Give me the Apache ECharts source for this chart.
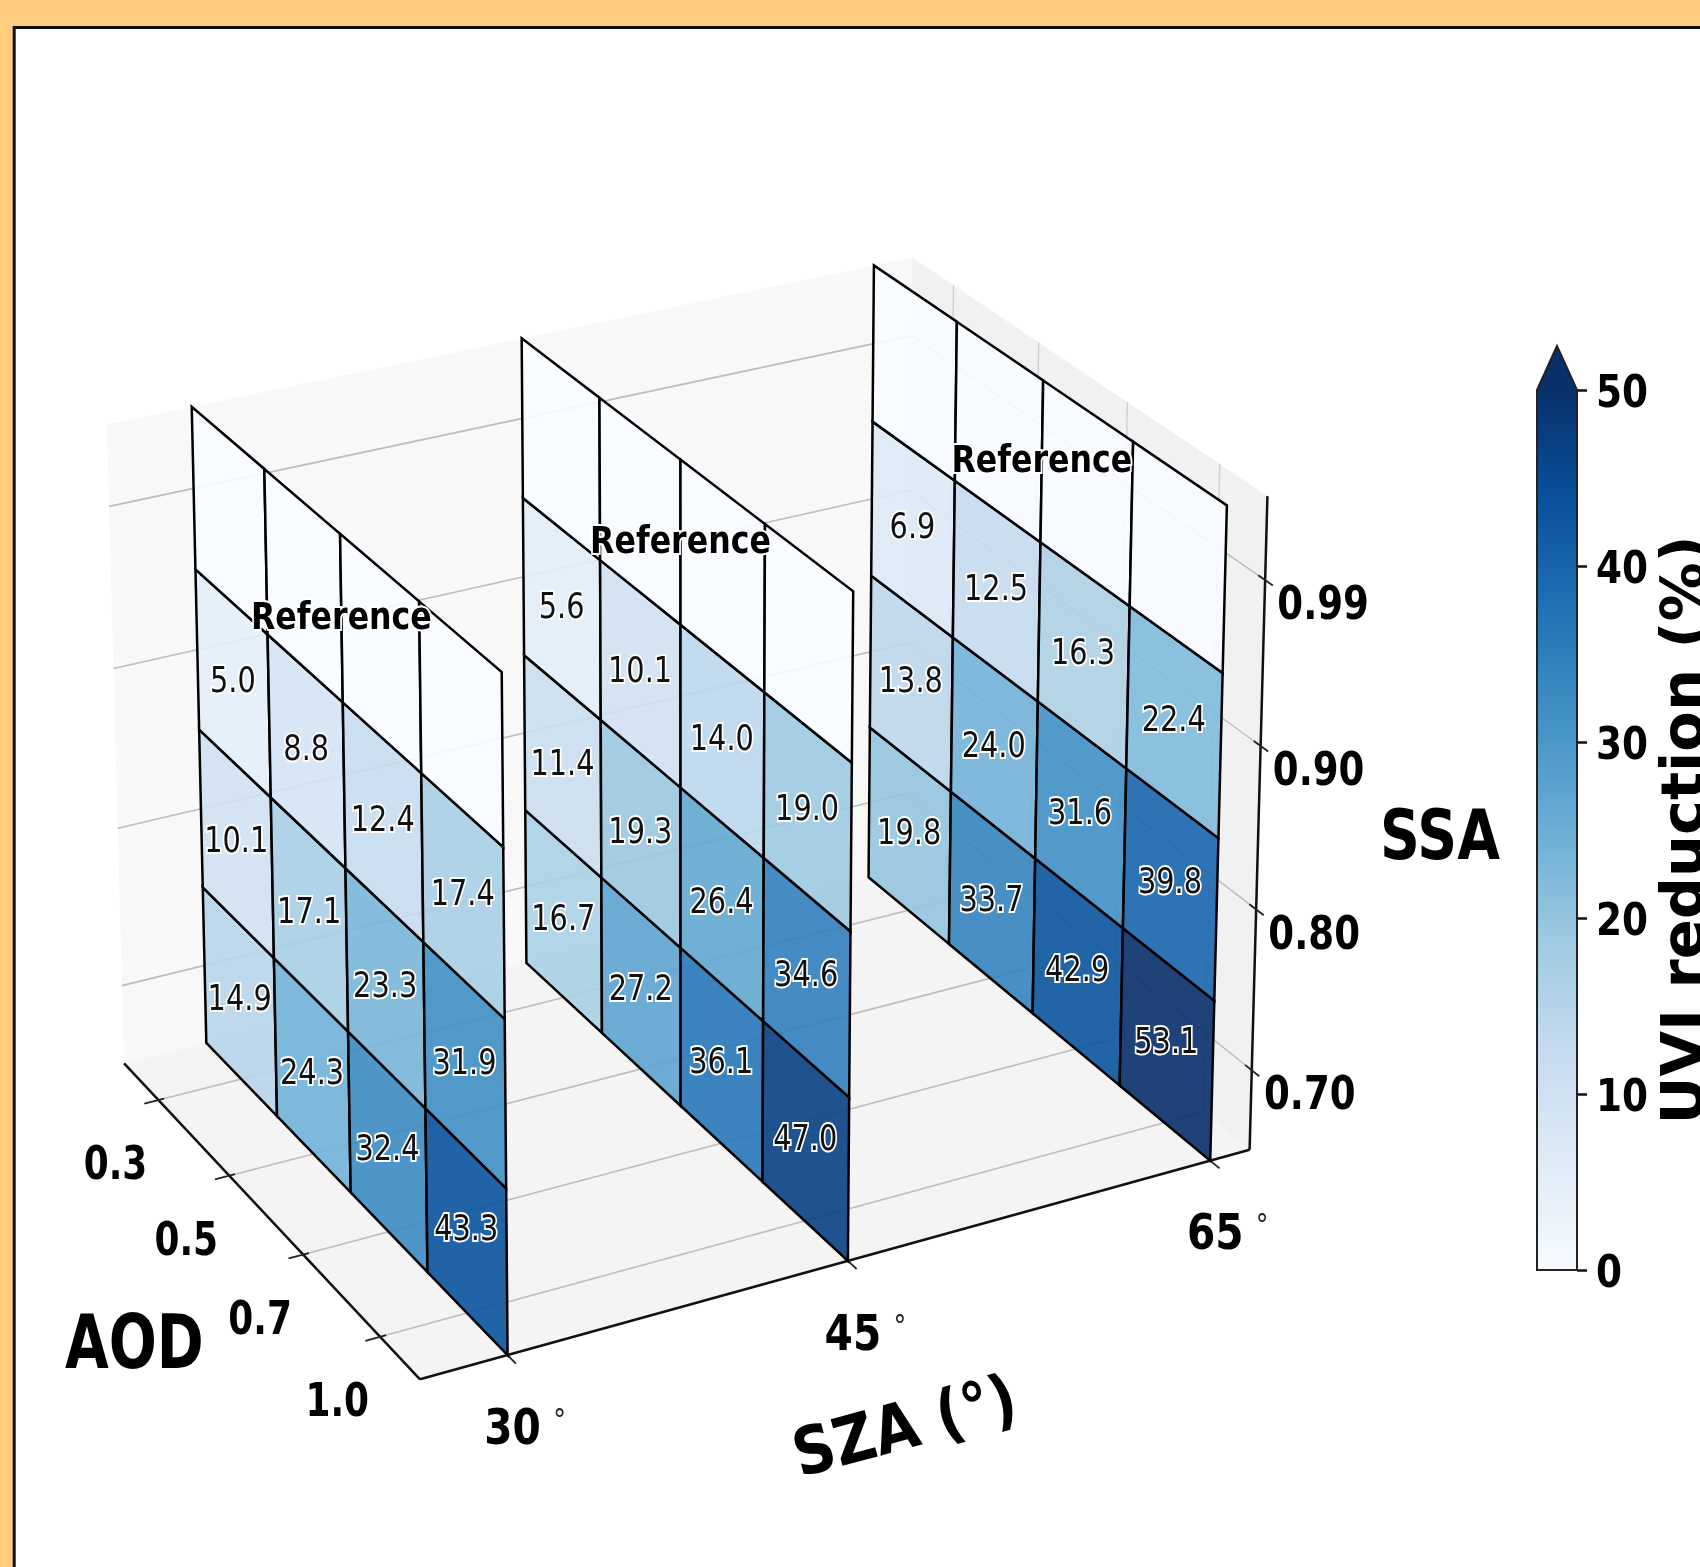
<!DOCTYPE html>
<html>
<head>
<meta charset="utf-8">
<style>html,body{margin:0;padding:0;background:#fff}#chart{width:1700px;height:1567px}</style>
<script src="https://cdn.jsdelivr.net/npm/echarts@6/dist/echarts.min.js"></script>
</head>
<body>
<div id="chart"></div>
<script>
const szaLabels = ['30', '45', '65']
const aodLabels = ['0.3', '0.5', '0.7', '1.0']
const ssaLabels = ['0.70', '0.80', '0.90', '0.99']
const colorbarTicks = [0, 10, 20, 30, 40, 50]
// rows run from SSA 0.70 up to 0.90, columns from AOD 0.3 to 1.0
const sza30 = [[14.9, 24.3, 32.4, 43.3], [10.1, 17.1, 23.3, 31.9], [5.0, 8.8, 12.4, 17.4]]
const sza45 = [[16.7, 27.2, 36.1, 47.0], [11.4, 19.3, 26.4, 34.6], [5.6, 10.1, 14.0, 19.0]]
const sza65 = [[19.8, 33.7, 42.9, 53.1], [13.8, 24.0, 31.6, 39.8], [6.9, 12.5, 16.3, 22.4]]
const blues = ['#f7fbff', '#deebf7', '#c6dbef', '#9ecae1', '#6baed6', '#4292c6', '#2171b5', '#08519c', '#08306b']

// perspective camera: box coords (x along SZA, y back along AOD, z up along SSA, all about 0..1) to page pixels
const camera = [0.76374, -0.28332, -0.02204, 0.50760, -0.13580, -0.22139, -0.70455, 1.35504, 0.05048, 0.08706, -0.03221]
const szaPos = [0, 0.472, 1]
const xLo = -0.118
const xHi = 1.059
const screen = (X, Y, Z) => {
  const p = camera
  const w = p[8] * X + p[9] * Y + p[10] * Z + 1
  return [(p[0] * X + p[1] * Y + p[2] * Z + p[3]) / w * 1000, (p[4] * X + p[5] * Y + p[6] * Z + p[7]) / w * 1000]
}

const rowsBySza = [sza30, sza45, sza65]
// back panel first so nearer panels paint over it; top row is the reference case (no reduction)
const cellData = []
for (let s = 2; s >= 0; s--) {
  for (let j = 0; j < 4; j++) {
    for (let i = 0; i < 4; i++) {
      cellData.push([s, i, j, j < 3 ? rowsBySza[s][j][i] : 0])
    }
  }
}
const blueAt = v => echarts.color.lerp(Math.min(v / 50, 1), blues)
const font = 'DejaVu Sans'

function label(x, y, text, size, weight, sx, rot, extra) {
  return {
    type: 'text', x, y, scaleX: sx, rotation: rot || 0,
    style: Object.assign({ text, fontFamily: font, fontSize: size, fontWeight: weight, fill: '#000', align: 'center', verticalAlign: 'middle' }, extra)
  }
}

function renderBox(params, api) {
  const pt = (X, Y, Z) => api.coord(screen(X, Y, Z))
  const poly = (pts, fill) => ({ type: 'polygon', shape: { points: pts }, style: { fill } })
  const seg = (a, b, stroke, lineWidth) => ({ type: 'line', shape: { x1: a[0], y1: a[1], x2: b[0], y2: b[1] }, style: { stroke, lineWidth } })
  const kids = [
    poly([pt(xLo, 1, 0), pt(xHi, 1, 0), pt(xHi, 1, 1), pt(xLo, 1, 1)], '#f8f8f8'),
    poly([pt(xHi, 0, 0), pt(xHi, 1, 0), pt(xHi, 1, 1), pt(xHi, 0, 1)], '#f1f1f1'),
    poly([pt(xLo, 0, 0), pt(xHi, 0, 0), pt(xHi, 1, 0), pt(xLo, 1, 0)], '#f4f4f4')
  ]
  const grey = '#bcbcbc'
  aodLabels.forEach((t, i) => {
    const y = 1 - (i + 0.5) / 4
    kids.push(seg(pt(xLo, y, 0), pt(xHi, y, 0), grey, 1.6))
    kids.push(seg(pt(xHi, y, 0), pt(xHi, y, 1), '#cfcfcf', 1.4))
  })
  ssaLabels.forEach((t, j) => {
    const z = (j + 0.5) / 4
    kids.push(seg(pt(xLo, 1, z), pt(xHi, 1, z), grey, 1.6))
    kids.push(seg(pt(xHi, 1, z), pt(xHi, 0, z), grey, 1.4))
  })
  kids.push(seg(pt(xLo, 1, 0), pt(xLo, 0, 0), '#111', 2.5))
  kids.push(seg(pt(xLo, 0, 0), pt(xHi, 0, 0), '#111', 2.5))
  kids.push(seg(pt(xHi, 0, 0), pt(xHi, 0, 1), '#111', 2.5))
  aodLabels.forEach((t, i) => {
    const y = 1 - (i + 0.5) / 4
    kids.push(seg(pt(xLo - 0.02, y, 0), pt(xLo + 0.008, y, 0), '#222', 1.8))
    const q = pt(xLo, y, 0)
    kids.push(label(q[0] - 43, q[1] + 67, t, 46, 'bold', 0.78))
  })
  ssaLabels.forEach((t, j) => {
    const z = (j + 0.5) / 4
    kids.push(seg(pt(xHi, 0.018, z), pt(xHi, -0.02, z), '#222', 1.8))
    const q = pt(xHi, 0, z)
    kids.push(label(q[0] + 58, q[1] + 27, t, 47, 'bold', 0.79))
  })
  szaLabels.forEach((t, s) => {
    kids.push(seg(pt(szaPos[s], 0, 0), pt(szaPos[s], -0.025, 0), '#222', 1.8))
    const q = pt(szaPos[s], 0, 0)
    kids.push(label(q[0] + 5, q[1] + 76, t, 49, 'bold', 0.83))
    kids.push(label(q[0] + 52, q[1] + 67, '°', 30, 'normal', 0.85, 0, { fill: '#222' }))
  })
  const c = api.coord([134.4, 1349])
  kids.push(label(c[0], c[1], 'AOD', 74, 'bold', 0.765))
  const d = api.coord([1440, 841])
  kids.push(label(d[0], d[1], 'SSA', 70, 'bold', 0.79))
  const e = api.coord([906, 1431])
  kids.push(label(e[0], e[1], 'SZA (°)', 66, 'bold', 0.87, 0.262))
  return { type: 'group', children: kids }
}

function renderCell(params, api) {
  const s = api.value(0)
  const i = api.value(1)
  const j = api.value(2)
  const X = szaPos[s]
  const y0 = 1 - i / 4
  const y1 = 1 - (i + 1) / 4
  const z0 = j / 4
  const z1 = (j + 1) / 4
  const pts = [screen(X, y0, z0), screen(X, y1, z0), screen(X, y1, z1), screen(X, y0, z1)].map(q => api.coord(q))
  return {
    type: 'polygon', shape: { points: pts },
    style: { fill: echarts.color.modifyAlpha(blueAt(api.value(3)), 0.9), stroke: '#000', lineWidth: 2.5 }
  }
}

function renderCellText(params, api) {
  const s = api.value(0)
  const i = api.value(1)
  const j = api.value(2)
  const X = szaPos[s]
  if (j === 3) {
    if (i !== 0) return null
    const r = api.coord(screen(X, 0.5, 0.875))
    return label(r[0], r[1] + 1, 'Reference', 37, 'bold', 0.855, 0, { stroke: '#fff', lineWidth: 4 })
  }
  const c = api.coord(screen(X, 1 - (i + 0.5) / 4, (j + 0.5) / 4))
  return label(c[0], c[1], api.value(3).toFixed(1), 36, 'normal', 0.8, 0, { stroke: '#fff', lineWidth: 4, fill: '#111' })
}

function renderColorbar(params, api) {
  const top = 52.5
  const stops = blues.map((c, i) => ({ offset: i / 8 * 50 / top, color: c }))
  stops.push({ offset: 1, color: blues[8] })
  const pts = [[0, 0], [1, 0], [1, 50], [0.5, top], [0, 50]].map(q => api.coord(q))
  const kids = [{
    type: 'polygon', shape: { points: pts },
    style: { fill: { type: 'linear', x: 0, y: 1, x2: 0, y2: 0, colorStops: stops }, stroke: '#222', lineWidth: 2 }
  }]
  colorbarTicks.forEach(t => {
    const q = api.coord([1, t])
    kids.push(label(q[0] + 19, q[1] + 6, String(t), 44, 'bold', 0.85, 0, { align: 'left' }))
  })
  return { type: 'group', children: kids }
}

const chart = echarts.init(document.getElementById('chart'))
chart.setOption({
  animation: false,
  backgroundColor: '#FFCC80',
  graphic: [
    { type: 'rect', z: -1, shape: { x: 14.2, y: 27.5, width: 1800, height: 1700 }, style: { fill: '#fff', stroke: '#111', lineWidth: 3 } }
  ],
  grid: [
    { left: 0, top: 0, right: 0, bottom: 0, outerBoundsMode: 'none' },
    { left: 1537, right: 123, top: 390, bottom: 297, outerBoundsMode: 'none' }
  ],
  xAxis: [
    { type: 'value', min: 0, max: 1700, show: false, gridIndex: 0 },
    { type: 'value', min: 0, max: 1, show: false, gridIndex: 1 }
  ],
  yAxis: [
    { type: 'value', min: 0, max: 1567, inverse: true, show: false, gridIndex: 0 },
    {
      type: 'value', min: 0, max: 50, interval: 10, gridIndex: 1, position: 'right',
      axisLine: { show: true, onZero: false, lineStyle: { color: '#222', width: 2 } },
      axisTick: { show: true, length: 10, lineStyle: { color: '#111', width: 2.5 } },
      axisLabel: { show: false },
      splitLine: { show: false },
      name: 'UVI reduction (%)', nameLocation: 'middle', nameRotate: 90, nameGap: 81,
      nameTextStyle: { fontFamily: font, fontWeight: 'bold', fontSize: 59, color: '#000' }
    }
  ],
  series: [
    { type: 'custom', silent: true, data: [[0]], renderItem: renderBox, z: 1 },
    { type: 'custom', silent: true, data: cellData, renderItem: renderCell, z: 2 },
    { type: 'custom', silent: true, data: cellData, renderItem: renderCellText, z: 3 },
    { type: 'custom', silent: true, xAxisIndex: 1, yAxisIndex: 1, data: [[0]], renderItem: renderColorbar, z: 2 }
  ]
})
</script>
</body>
</html>
